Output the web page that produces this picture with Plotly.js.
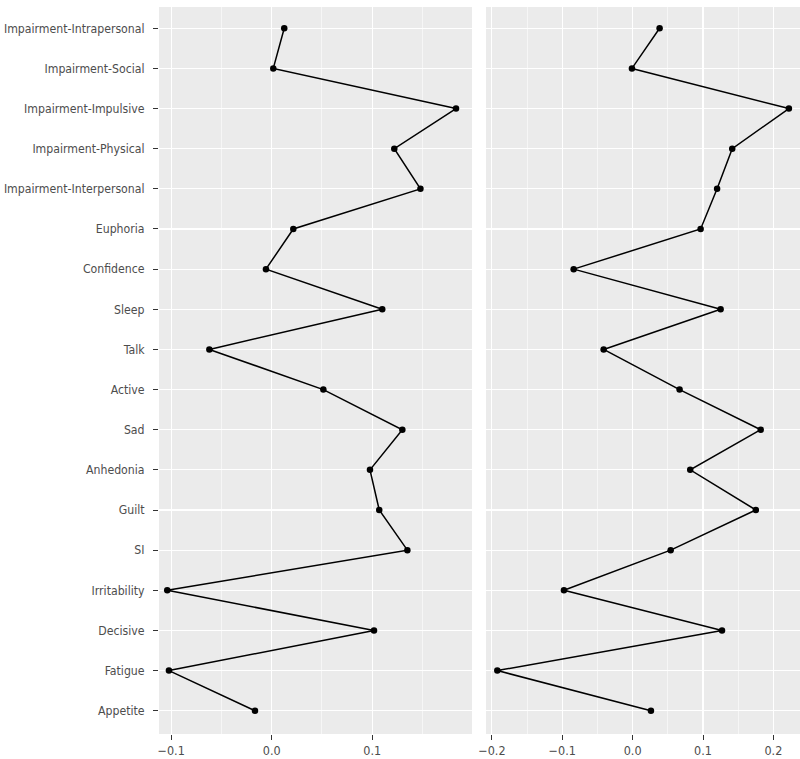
<!DOCTYPE html>
<html><head><meta charset="utf-8">
<script src="https://cdn.plot.ly/plotly-3.0.1.min.js"></script>
<style>html,body{margin:0;padding:0;background:#fff}</style>
</head><body><div id="chart" style="width:800px;height:759px"></div>
<script>
const categories = ["Impairment-Intrapersonal","Impairment-Social","Impairment-Impulsive","Impairment-Physical","Impairment-Interpersonal","Euphoria","Confidence","Sleep","Talk","Active","Sad","Anhedonia","Guilt","SI","Irritability","Decisive","Fatigue","Appetite"];
const leftValues = [0.0125,0.0016,0.1834,0.122,0.148,0.0215,-0.0057,0.110,-0.062,0.0514,0.130,0.0978,0.107,0.135,-0.1039,0.1018,-0.1022,-0.0166];
const rightValues = [0.0383,-0.001,0.222,0.1415,0.120,0.0966,-0.0838,0.125,-0.0412,0.0667,0.182,0.0818,0.175,0.054,-0.0976,0.127,-0.1923,0.026];
const leftTicks = [-0.1,0.0,0.1];
const leftTickLabels = ["\u22120.1","0.0","0.1"];
const rightTicks = [-0.2,-0.1,0.0,0.1,0.2];
const rightTickLabels = ["\u22120.2","\u22120.1","0.0","0.1","0.2"];

const FONT = "'Liberation Sans Narrow','DejaVu Sans Condensed','Arial Narrow',sans-serif";
const lineStyle = {color:'#000', width:1.5};
const markerStyle = {color:'#000', size:6.5};

const traces = [
  {x:leftValues, y:categories, type:'scatter', mode:'lines+markers', xaxis:'x', yaxis:'y', line:lineStyle, marker:markerStyle, hoverinfo:'x+y'},
  {x:rightValues, y:categories, type:'scatter', mode:'lines+markers', xaxis:'x2', yaxis:'y', line:lineStyle, marker:markerStyle, hoverinfo:'x+y'}
];

const xCommon = {
  showline:false, zeroline:false, showgrid:true, gridcolor:'#fff', gridwidth:1.1,
  ticks:'outside', ticklen:5, tickcolor:'#333', tickwidth:1,
  tickfont:{family:FONT, size:12.5, color:'#4d4d4d'},
  tickmode:'array',
  minor:{dtick:0.05, tick0:0, showgrid:true, gridcolor:'#fff', gridwidth:0.55, ticks:''},
  anchor:'y', fixedrange:true
};

const layout = {
  width:800, height:759,
  margin:{l:159, r:0, t:7, b:25},
  paper_bgcolor:'#fff', plot_bgcolor:'#fff',
  showlegend:false,
  xaxis:Object.assign({}, xCommon, {domain:[0,0.4883], range:[-0.1121,0.1993], tickvals:leftTicks, ticktext:leftTickLabels}),
  xaxis2:Object.assign({}, xCommon, {domain:[0.5101,1], range:[-0.2084,0.2378], tickvals:rightTicks, ticktext:rightTickLabels}),
  yaxis:{
    type:'category', categoryorder:'array', categoryarray:categories,
    range:[17.58,-0.53], showline:false, zeroline:false,
    showgrid:true, gridcolor:'#fff', gridwidth:1.1,
    ticks:'outside', ticklen:5, tickcolor:'#333', tickwidth:1,
    ticklabelstandoff:6,
    tickfont:{family:FONT, size:12.2, color:'#4d4d4d'},
    fixedrange:true
  },
  shapes:[
    {type:'rect', xref:'x domain', yref:'y domain', x0:0, x1:1, y0:0, y1:1, fillcolor:'#ebebeb', line:{width:0}, layer:'below'},
    {type:'rect', xref:'x2 domain', yref:'y domain', x0:0, x1:1, y0:0, y1:1, fillcolor:'#ebebeb', line:{width:0}, layer:'below'}
  ]
};

Plotly.newPlot('chart', traces, layout, {staticPlot:true, displayModeBar:false});
</script>
</body></html>
